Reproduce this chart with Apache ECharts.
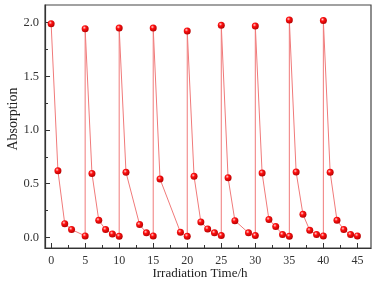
<!DOCTYPE html>
<html>
<head>
<meta charset="utf-8">
<script src="https://cdn.jsdelivr.net/npm/echarts@6/dist/echarts.min.js"></script>
<style>
  html, body { margin: 0; padding: 0; background: #fff; }
  #chart { width: 379px; height: 282px; }
</style>
</head>
<body>
<div id="chart"></div>
<script>
// irradiation time (h), one point per measurement, the jumps repeat x at cycle starts
const time = [0, 1, 2, 3, 5,
  5, 6, 7, 8, 9, 10,
  10, 11, 13, 14, 15,
  15, 16, 19, 20,
  20, 21, 22, 23, 24, 25,
  25, 26, 27, 29, 30,
  30, 31, 32, 33, 34, 35,
  35, 36, 37, 38, 39, 40,
  40, 41, 42, 43, 44, 45];
const absorption = [1.99, 0.62, 0.127, 0.072, 0.013,
  1.944, 0.595, 0.158, 0.072, 0.031, 0.01,
  1.95, 0.605, 0.118, 0.041, 0.013,
  1.95, 0.543, 0.047, 0.01,
  1.923, 0.568, 0.143, 0.078, 0.041, 0.016,
  1.976, 0.555, 0.155, 0.041, 0.016,
  1.969, 0.599, 0.165, 0.10, 0.025, 0.01,
  2.025, 0.608, 0.214, 0.065, 0.025, 0.013,
  2.02, 0.605, 0.158, 0.072, 0.025, 0.013];

const xTicks = [0, 5, 10, 15, 20, 25, 30, 35, 40, 45];
const xMinorTicks = [2.5, 7.5, 12.5, 17.5, 22.5, 27.5, 32.5, 37.5, 42.5];
const yTicks = [0, 0.5, 1, 1.5, 2];
const yMinorTicks = [0.25, 0.75, 1.25, 1.75];

const chart = echarts.init(document.getElementById("chart"));

const font = "Liberation Serif";
const axisColor = "#333";
const X_MIN = -0.9, X_MAX = 47;
const Y_MIN = -0.1, Y_MAX = 2.165;

const option = {
  animation: false,
  grid: {
    left: 45, right: 8, top: 5, bottom: 34,
    outerBoundsMode: "none",
    containLabel: false,
    show: true, borderColor: "#444", borderWidth: 1.2,
    backgroundColor: "transparent"
  },
  xAxis: [
    {
      type: "value", min: X_MIN, max: X_MAX,
      name: "Irradiation Time/h", nameLocation: "middle", nameGap: 19,
      nameMoveOverlap: false,
      nameTextStyle: { fontFamily: font, fontSize: 13, color: "#222", padding: [0, 16, 0, 0] },
      axisLine: { onZero: false, lineStyle: { color: axisColor, width: 1.2 } },
      axisTick: { inside: true, length: 5, customValues: xTicks, lineStyle: { color: axisColor } },
      axisLabel: { customValues: xTicks, fontFamily: font, fontSize: 12, color: "#333", margin: 7 },
      splitLine: { show: false }
    },
    {
      type: "value", min: X_MIN, max: X_MAX, position: "bottom",
      axisLine: { show: false, onZero: false },
      axisTick: { inside: true, length: 3, customValues: xMinorTicks, lineStyle: { color: axisColor } },
      axisLabel: { show: false },
      splitLine: { show: false }
    }
  ],
  yAxis: [
    {
      type: "value", min: Y_MIN, max: Y_MAX,
      name: "Absorption", nameLocation: "middle", nameGap: 25,
      nameMoveOverlap: false,
      nameTextStyle: { fontFamily: font, fontSize: 14, color: "#222", padding: [0, 0, 0, 15] },
      axisLine: { show: true, onZero: false, lineStyle: { color: axisColor, width: 1.2 } },
      axisTick: { show: true, inside: true, length: 5, customValues: yTicks, lineStyle: { color: axisColor } },
      axisLabel: {
        customValues: yTicks, fontFamily: font, fontSize: 12.5, color: "#333", margin: 6,
        formatter: v => v.toFixed(1)
      },
      splitLine: { show: false }
    },
    {
      type: "value", min: Y_MIN, max: Y_MAX, position: "left",
      axisLine: { show: false, onZero: false },
      axisTick: { show: true, inside: true, length: 3, customValues: yMinorTicks, lineStyle: { color: axisColor } },
      axisLabel: { show: false },
      splitLine: { show: false }
    }
  ],
  series: [
    {
      type: "line",
      data: time.map((t, i) => [t, absorption[i]]),
      symbol: "circle",
      symbolSize: 7,
      lineStyle: { color: "#f07a7a", width: 1 },
      itemStyle: {
        color: {
          type: "radial", x: 0.38, y: 0.35, r: 0.7,
          colorStops: [
            { offset: 0, color: "#ffd0d0" },
            { offset: 0.35, color: "#ff1010" },
            { offset: 1, color: "#b00000" }
          ]
        },
        borderWidth: 0
      },
      z: 3
    }
  ]
};

chart.setOption(option);
</script>
</body>
</html>
